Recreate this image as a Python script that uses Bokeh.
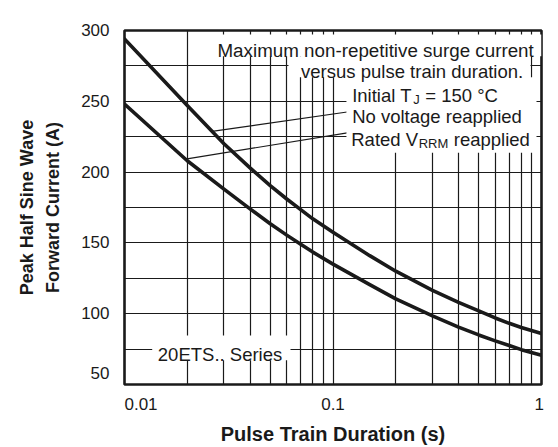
import numpy as np
from bokeh.plotting import figure
from bokeh.models import Label, FixedTicker, BoxAnnotation
from bokeh.embed import file_html
from bokeh.resources import INLINE

# ---------------- data ----------------
duration_s = [0.01, 0.02, 0.03, 0.04, 0.05, 0.06, 0.07, 0.08, 0.1, 0.15,
              0.2, 0.3, 0.4, 0.5, 0.6, 0.7, 0.8, 1.0]
no_voltage_A = [294, 247, 220, 203, 190.5, 181, 173.5, 167, 157.5, 141,
                130, 116.5, 108, 102, 97, 93.2, 90.3, 86]
rated_vrrm_A = [248, 208, 188, 174, 163.5, 155.5, 149, 143.5, 135, 120.5,
                110.5, 98.5, 90.5, 85, 80.8, 77.5, 74.6, 70.6]

x_tick_values = [0.01, 0.1, 1]
x_tick_labels = ["0.01", "0.1", "1"]
y_tick_values = [50, 100, 150, 200, 250, 300]
x_grid_values = [0.02, 0.03, 0.04, 0.05, 0.06, 0.07, 0.08, 0.09, 0.1,
                 0.2, 0.3, 0.4, 0.5, 0.6, 0.7, 0.8, 0.9]
y_grid_values = [75, 100, 125, 150, 175, 200, 225, 250, 275]

x_title = "Pulse Train Duration (s)"
y_title = "Peak Half Sine Wave\nForward Current (A)"
series_name = "20ETS.. Series"

INK = "#1a1a1a"
FONT = "Liberation Sans"
NB = "\u00a0"

p = figure(width=558, height=447, x_axis_type="log",
           x_range=(0.01, 1), y_range=(50, 300),
           output_backend="svg", toolbar_location=None,
           min_border_left=124, min_border_right=17,
           min_border_top=30, min_border_bottom=61)
p.background_fill_color = "white"
p.border_fill_color = "white"
p.outline_line_color = INK
p.outline_line_width = 2.6

# axes: only labels, no lines / ticks
p.xaxis.ticker = FixedTicker(ticks=x_tick_values)
p.yaxis.ticker = FixedTicker(ticks=y_tick_values)
p.xaxis.major_label_overrides = {
    x_tick_values[0]: NB * 7 + x_tick_labels[0],
    x_tick_values[1]: x_tick_labels[1],
    x_tick_values[2]: x_tick_labels[2] + NB,
}
p.yaxis.major_label_overrides = {y_tick_values[0]: str(y_tick_values[0]) + "\n" + NB}
for ax in (p.xaxis, p.yaxis):
    ax.axis_line_color = None
    ax.major_tick_line_color = None
    ax.minor_tick_line_color = None
    ax.major_tick_out = 0
    ax.major_tick_in = 0
    ax.major_label_text_font = FONT
    ax.major_label_text_font_size = "17px"
    ax.major_label_text_color = INK
    ax.axis_label_text_font = FONT
    ax.axis_label_text_font_style = "bold"
    ax.axis_label_text_color = INK
p.xaxis.major_label_standoff = 10
p.yaxis.major_label_standoff = 15
p.xaxis.axis_label = x_title
p.xaxis.axis_label_text_font_size = "20px"
p.xaxis.axis_label_standoff = 6
p.yaxis.axis_label = y_title
p.yaxis.axis_label_text_font_size = "18px"
p.yaxis.axis_label_text_line_height = 1.33
p.yaxis.axis_label_standoff = 15

p.xgrid.ticker = FixedTicker(ticks=x_grid_values)
p.ygrid.ticker = FixedTicker(ticks=y_grid_values)
for g in (p.xgrid, p.ygrid):
    g.grid_line_color = INK
    g.grid_line_width = 1.2
    g.grid_line_alpha = 1.0

p.line(duration_s, no_voltage_A, line_color=INK, line_width=3.6, line_cap="round", line_join="round")
p.line(duration_s, rated_vrrm_A, line_color=INK, line_width=3.6, line_cap="round", line_join="round")


def on_curve(xq, ys):
    return float(np.interp(np.log10(xq), np.log10(duration_s), ys))


# leader lines from the curves to the legend texts
p.line([0.0263, 0.1191], [on_curve(0.0263, no_voltage_A), 242.6], line_color=INK, line_width=1.1)
p.line([0.0196, 0.1191], [on_curve(0.0196, rated_vrrm_A), 227.9], line_color=INK, line_width=1.1)

# white boxes behind the annotation texts (hide the grid)
for (l, r, b, t) in [(0.02673, 1.0, 281.74, 297.19),
                     (0.06117, 0.8855, 267.0, 281.74),
                     (0.1160, 0.9463, 213.6, 267.0),
                     (0.01358, 0.06254, 67.06, 84.62)]:
    p.add_layout(BoxAnnotation(left=l, right=r, bottom=b, top=t,
                               fill_color="white", fill_alpha=1.0,
                               line_color=None, line_alpha=0))


def lab(text, x, y, size="18.5px", align="left", xo=0, yo=0):
    l = Label(x=x, y=y, text=text, x_offset=xo, y_offset=yo,
              text_font=FONT, text_font_size=size, text_align=align,
              text_baseline="alphabetic", text_color=INK)
    p.add_layout(l)
    return l


lab("Maximum non-repetitive surge current", 0.918, 285.96, size="18.8px", align="right")
lab("versus pulse train duration.", 0.817, 270.7, align="right")
lab("Initial T", 0.1236, 254.4)
lab("J", 0.1236, 254.4, size="13px", xo=61, yo=-4)
lab("= 150 °C", 0.1236, 254.4, xo=73)
lab("No voltage reapplied", 0.1236, 239.1)
lab("Rated V", 0.1223, 223.2)
lab("RRM", 0.1223, 223.2, size="13px", xo=67.5, yo=-4)
lab("reapplied", 0.1223, 223.2, xo=102.5)
lab(series_name, 0.01445, 71.1)

open("out.html", "w").write(file_html(p, INLINE))
